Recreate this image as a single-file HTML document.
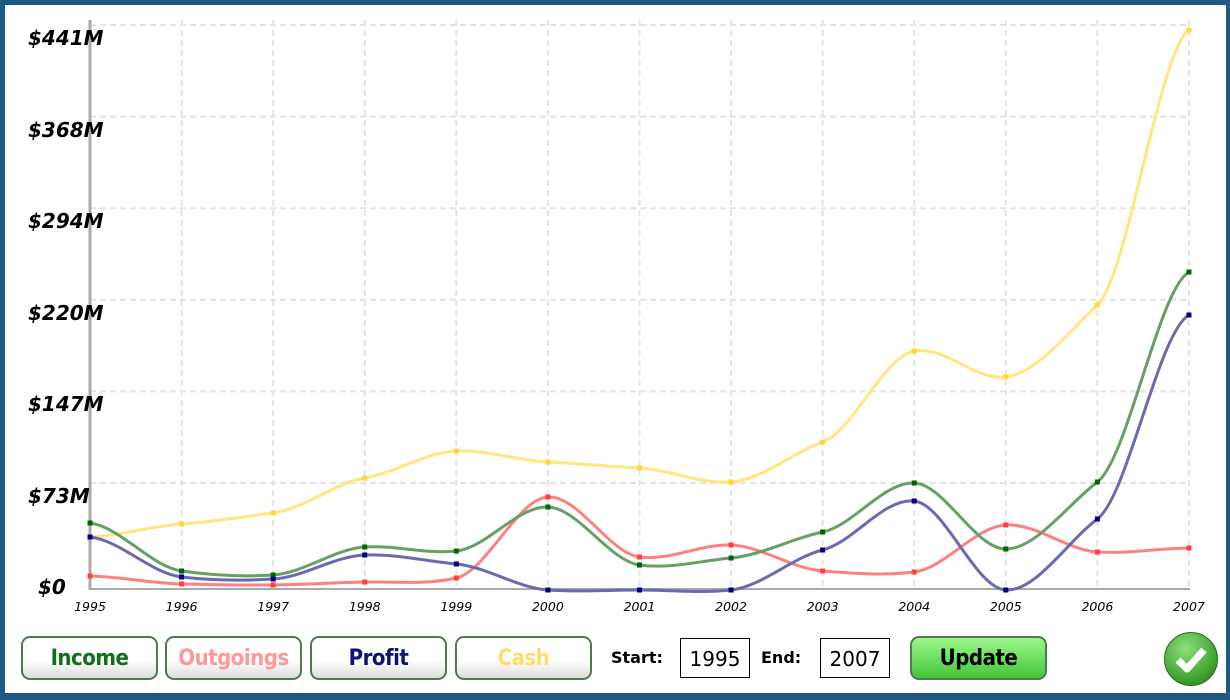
<!DOCTYPE html>
<html><head><style>
body{margin:0;width:1230px;height:700px;overflow:hidden;background:#1f5a87;font-family:"Liberation Sans",sans-serif}
#main{position:absolute;left:5px;top:5px;width:1221px;height:688px;background:#fff}
.btn{position:absolute;top:636px;height:40px;width:133px;border:2px solid #4f7a4f;border-radius:9px;background:linear-gradient(#fff 55%,#ddd);font:bold 22px "DejaVu Sans Condensed","DejaVu Sans",sans-serif;text-align:center;line-height:42px;letter-spacing:-0.5px}
.lab{position:absolute;top:648px;font:bold 16px "DejaVu Sans",sans-serif}
.box{position:absolute;top:638px;width:68px;height:38px;border:1px solid #000;font:20px "DejaVu Sans",sans-serif;text-align:center;line-height:40px}
</style></head><body>
<div id="main"></div>
<svg width="1230" height="700" style="position:absolute;left:0;top:0" id="s"></svg>
<div class="btn" style="left:21px;color:#11701a">Income</div>
<div class="btn" style="left:165px;color:#ff9999">Outgoings</div>
<div class="btn" style="left:310px;color:#10107a">Profit</div>
<div class="btn" style="left:455px;color:#ffdd66">Cash</div>
<div class="lab" style="left:611px">Start:</div>
<div class="box" style="left:680px">1995</div>
<div class="lab" style="left:761px">End:</div>
<div class="box" style="left:820px">2007</div>
<div class="btn" style="left:910px;color:#000;background:linear-gradient(#9ef58e,#6ee060 50%,#46c43a);border-color:#4f7a4f">Update</div>
<div style="position:absolute;left:1164px;top:632px;width:52px;height:52px;border-radius:50%;background:radial-gradient(circle at 40% 30%,#8de07a,#3a9d2a 70%,#2a7a20);border:1px solid #2a6a20"></div>
<svg style="position:absolute;left:1164px;top:632px" width="54" height="54"><path d="M14 28 L23 37 L40 18" stroke="#fff" stroke-width="7" fill="none" stroke-linejoin="round"/></svg>
<script>
var s=document.getElementById('s'),h='';
var X=i=>90+i*91.58;
for(var k=0;k<6;k++){var y=25+91.6*k;h+=`<line x1="90" x2="1190" y1="${y}" y2="${y}" stroke="#e4e4e4" stroke-width="2" stroke-dasharray="6,4"/>`;}
var lbl=['$441M','$368M','$294M','$220M','$147M','$73M','$0'];
var ly=[38,130,221,313,404,496,587];
for(var i=0;i<13;i++){h+=`<line x1="${X(i)}" x2="${X(i)}" y1="20" y2="590" stroke="#e4e4e4" stroke-width="2" stroke-dasharray="6,4"/>`;
h+=`<text x="${X(i)}" y="611" font-size="12.5" font-style="italic" text-anchor="middle" font-family="DejaVu Sans">${1995+i}</text>`;}
h+='<line x1="90" x2="90" y1="20" y2="590" stroke="#aaa" stroke-width="3"/><line x1="90" x2="1190" y1="589" y2="589" stroke="#aaa" stroke-width="2"/>';
lbl.forEach((t,i)=>h+=`<text x="${i==6?38:28}" y="${ly[i]+7}" font-size="20" font-weight="bold" font-style="italic" font-family="DejaVu Sans">${t}</text>`);
var S=[
[[537,524,513,478,451,462,468,482,442,351,377,305,30],'#ffe680','#ffd633'],
[[576,584,585,582,578,497,557,545,571,572,525,552,548],'#ff8080','#ff4040'],
[[523,571,575,547,551,507,565,558,532,483,549,482,272],'#66a066','#006400'],
[[537,577,579,555,564,590,590,590,550,501,590,519,315],'#6a6ab0','#000080']];
S.forEach(([d,c,m])=>{var p=`M${X(0)} ${d[0]}`;for(var i=0;i<12;i++){var y0=d[Math.max(i-1,0)],y1=d[i],y2=d[i+1],y3=d[Math.min(i+2,12)];
var c1y=y1+(y2-y0)/12,c2y=y2-(y3-y1)/12;
p+=` C${X(i)+30.5} ${c1y} ${X(i+1)-30.5} ${c2y} ${X(i+1)} ${y2}`;}
h+=`<path d="${p}" fill="none" stroke="${c}" stroke-width="3"/>`;
d.forEach((y,i)=>h+=`<rect x="${X(i)-2.5}" y="${y-2.5}" width="5" height="5" fill="${m}"/>`);});
s.innerHTML=h;
</script>
</body></html>
